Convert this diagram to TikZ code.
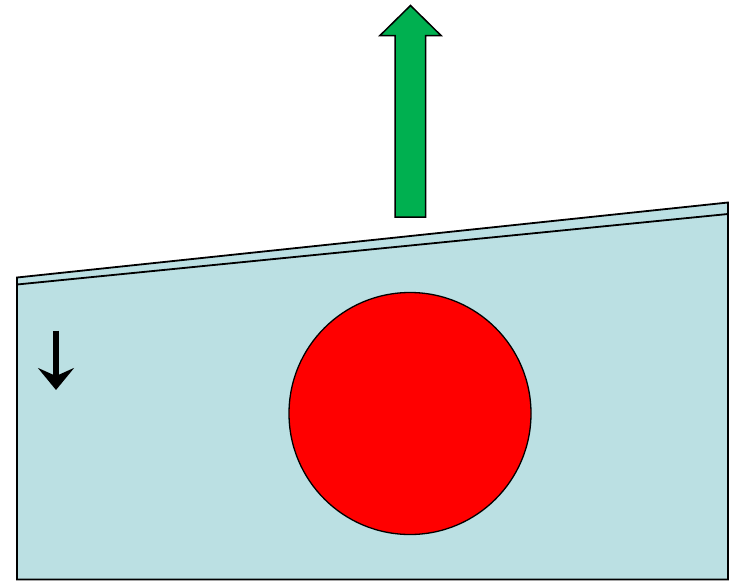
\documentclass[tikz,border=0pt]{standalone}
\usetikzlibrary{arrows.meta}
\definecolor{slab}{RGB}{187,224,227}
\definecolor{upgreen}{RGB}{0,176,80}
\begin{document}
\begin{tikzpicture}[x=1pt,y=-1pt,
  outline/.style={draw=black,line width=1.8pt,line join=miter},
  ballstyle/.style={draw=black,line width=1.3pt,fill=red}]
\useasboundingbox (0,0) rectangle (736,581);
% slab
\coordinate (tl) at (17,277.5);
\coordinate (tr) at (728,202.5);
\coordinate (br) at (728,579.5);
\coordinate (bl) at (17,579.5);
\fill[slab] (tl) -- (tr) -- (br) -- (bl) -- cycle;
\draw[outline] (tl) -- (tr) -- (br) -- (bl) -- cycle;
\coordinate (il) at (17,284.5);
\coordinate (ir) at (728,214);
\draw[line width=1.8pt] (il) -- (ir);
% ball
\node[ballstyle,circle,minimum size=242pt,inner sep=0pt] (ball) at (410,413.5) {};
% green arrow
\draw[draw=black,line width=1.5pt,fill=upgreen,line join=miter]
  (395,217) -- (395,35.5) -- (380,35.5) -- (410.5,5.5) -- (441,35.5) -- (425.5,35.5) -- (425.5,217) -- cycle;
% small down arrow
\coordinate (da) at (56,330.5);
\coordinate (db) at (56,390);
\draw[line width=5.5pt,-{Stealth[length=22pt,width=36pt,inset=8pt]}] (da) -- (db);
\end{tikzpicture}
\end{document}
